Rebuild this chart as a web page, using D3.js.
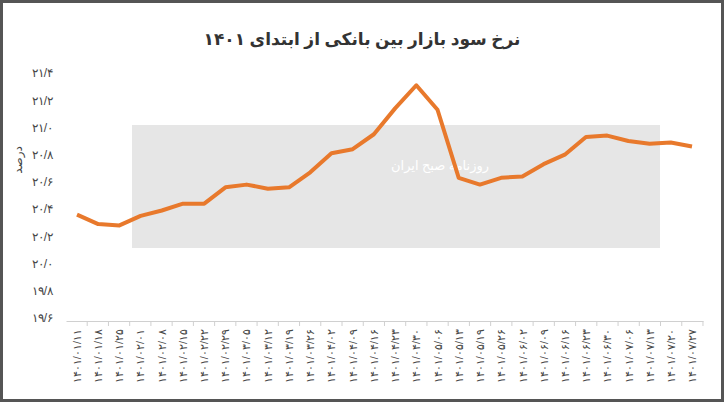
<!DOCTYPE html><html><head><meta charset="utf-8"><script src="https://cdn.jsdelivr.net/npm/d3@7"></script>
<style>body{margin:0;background:#fff}svg{font-family:"Noto Sans","DejaVu Sans",sans-serif}</style></head><body><svg width="724" height="402"></svg>
<script>
const categories=["1401/01/11","1401/01/18","1401/01/25","1401/02/01","1401/02/08","1401/02/15","1401/02/22","1401/02/29","1401/03/05","1401/03/12","1401/03/19","1401/03/26","1401/04/02","1401/04/09","1401/04/16","1401/04/23","1401/04/30","1401/05/06","1401/05/13","1401/05/19","1401/05/26","1401/06/02","1401/06/09","1401/06/16","1401/06/23","1401/06/30","1401/07/06","1401/07/13","1401/07/20","1401/07/27"];
const values=[20.36,20.29,20.28,20.35,20.39,20.44,20.44,20.56,20.58,20.55,20.56,20.67,20.81,20.84,20.95,21.14,21.31,21.13,20.63,20.58,20.63,20.64,20.73,20.80,20.93,20.94,20.90,20.88,20.89,20.86];
const yTicks=[19.6,19.8,20.0,20.2,20.4,20.6,20.8,21.0,21.2,21.4];
const title="نرخ سود بازار بین بانکی از ابتدای ۱۴۰۱";
const fa=s=>String(s).replace(/\d/g,d=>"۰۱۲۳۴۵۶۷۸۹"[d]);
const svg=d3.select("svg");
svg.append("rect").attr("x",1.5).attr("y",1.5).attr("width",721).attr("height",399).attr("fill","#fff").attr("stroke","#555").attr("stroke-width",3);
svg.append("rect").attr("x",132).attr("y",125).attr("width",528).attr("height",123).attr("fill","#e6e6e6");
svg.append("text").attr("x",440).attr("y",170).attr("text-anchor","middle").attr("fill","#fff").attr("font-size",13).attr("direction","rtl").text("روزنامه صبح ایران");
const x=d3.scalePoint().domain(categories).range([77,692]).padding(0);
const y=d3.scaleLinear().domain([19.6,21.4]).range([318,73]);
svg.append("text").attr("x",362).attr("y",45).attr("text-anchor","middle").attr("font-size",17).attr("font-weight","bold").attr("fill","#333").attr("direction","rtl").text(title);
const ya=svg.append("g").attr("transform","translate(66,0)").call(d3.axisLeft(y).tickValues(yTicks).tickSize(0).tickFormat(d=>fa(d3.format(".1f")(d)).replace(".","/")));
ya.select(".domain").remove();
ya.selectAll("text").attr("font-size",12).attr("fill","#444").attr("dx",-10);
svg.append("text").attr("transform","translate(22,160) rotate(-90)").attr("text-anchor","middle").attr("font-size",12).attr("fill","#444").text("درصد");
const xa=svg.append("g").attr("transform","translate(0,321)").call(d3.axisBottom(d3.scaleBand().domain(categories).range([66,703])).tickSize(5).tickSizeOuter(0).tickFormat(d=>fa(d)));
xa.select(".domain").attr("stroke","#d0d0d0");
xa.selectAll(".tick line").attr("stroke","#d0d0d0").attr("transform","translate(10.6,0)");
xa.selectAll("text").attr("font-size",11).attr("fill","#444").attr("text-anchor","end").attr("transform","rotate(-90)").attr("dx",-8).attr("dy",4).attr("x",0).attr("y",0);
svg.append("path").datum(values).attr("fill","none").attr("stroke","#E8792C").attr("stroke-width",4).attr("stroke-linejoin","round")
 .attr("d",d3.line().x((d,i)=>x(categories[i])).y(d=>y(d)));
</script></body></html>
